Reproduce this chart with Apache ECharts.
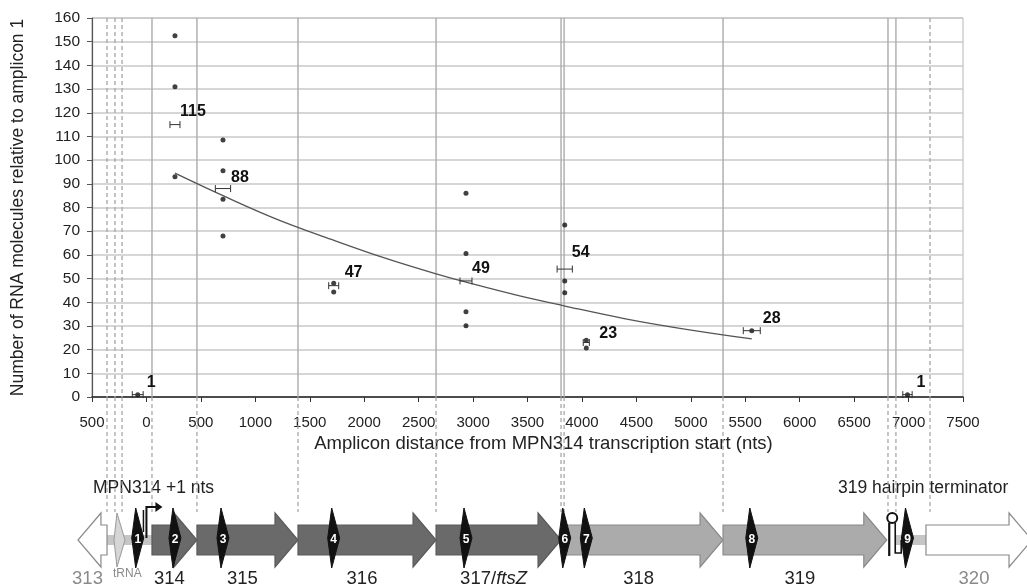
<!DOCTYPE html>
<html><head><meta charset="utf-8">
<script src="https://cdn.jsdelivr.net/npm/echarts@6/dist/echarts.min.js"></script>
<style>html,body{margin:0;padding:0;background:#fff}#c{width:1027px;height:587px}</style>
</head><body><div id="c"></div>
<script>
// ---------- data ----------
const xTickLabels = ['500','0','500','1000','1500','2000','2500','3000','3500','4000','4500','5000','5500','6000','6500','7000','7500'];
const yTickLabels = ['0','10','20','30','40','50','60','70','80','90','100','110','120','130','140','150','160'];
const ampliconX    = [-80, 262, 703, 1720, 2935, 3842, 4040, 5560, 6990];
const ampliconMean = [1, 115, 88, 47, 49, 54, 23, 28, 1];
const ampliconErr  = [50, 46, 70, 46, 55, 70, 28, 78, 43];
const replicates   = [[1],[152.5,131,93],[108.5,95.5,83.5,68],[48,44.3],[86,60.6,36,30.1],[72.6,49,44],[24,20.7],[28],[1]];
const fitX = [262, 703, 1200, 1700, 2200, 2660, 2935, 3400, 3835, 4400, 4900, 5560];
const fitY = [94.5, 85, 75, 66.5, 58.5, 52, 48.5, 43, 38.5, 33, 29, 24.5];
const boundaryX      = [-362, -289, -224, 51, 464, 1392, 2660, 3808, 3836, 5296, 6811, 6884, 7197];
const boundaryDashed = [true, true, true, false, false, false, false, false, false, false, false, false, true];
const geneNames = ['313','314','315','316','317/ftsZ','318','319','320'];
const geneStart = [-362, 51, 464, 1392, 2660, 3836, 5296, 7160];
const geneEnd   = [-629, 464, 1392, 2660, 3808, 5296, 6800, 8134];
const geneClass = ['flank','core','core','core','core','down','down','flank'];
const connectors = [[-362, 51], [6884, 7160]];
const trnaRange = [-289, -215];
const promoterX = 0;
const hairpinX = 6850;

// ---------- layout / style ----------
const FONT = '"Liberation Sans", Arial, Helvetica, sans-serif';
const labelOffsets = [[9,-12],[5,-13],[8,-10.5],[11,-13],[6,-12],[7,-16],[13,-9],[11,-12],[9,-12]];
const geneStyle = {
  flank: {fill:'#ffffff', stroke:'#8a8a8a', text:'#8a8a8a'},
  core:  {fill:'#6a6a6a', stroke:'#5a5a5a', text:'#222'},
  down:  {fill:'#ababab', stroke:'#8a8a8a', text:'#222'}
};
const YC = 143;
const BODY = 15, HEAD = 27, HEADLEN = 23;

const scatterData = [];
replicates.forEach((arr, i) => arr.forEach(v => scatterData.push([ampliconX[i], v])));

const chart = echarts.init(document.getElementById('c'));

const option = {
  animation: false,
  backgroundColor: '#fff',
  textStyle: {fontFamily: FONT},
  grid: [
    {left: 92, top: 18, width: 871, height: 379, show: true, borderColor: '#b5b5b5', borderWidth: 1},
    {left: 92, top: 397, width: 871, height: 190}
  ],
  xAxis: [
    {gridIndex: 0, type: 'value', min: -500, max: 7500, interval: 500,
     name: 'Amplicon distance from MPN314 transcription start (nts)',
     nameLocation: 'middle', nameGap: 29,
     nameTextStyle: {fontSize: 18.5, color: '#222', fontFamily: FONT, padding: [0, 0, 0, 32]},
     axisLine: {show: true, onZero: false, lineStyle: {color: '#222', width: 1.5}},
     axisTick: {show: true, inside: false, length: 5, lineStyle: {color: '#333'}},
     axisLabel: {fontSize: 15, color: '#222', margin: 18, fontFamily: FONT,
       formatter: v => xTickLabels[Math.round((v + 500) / 500)]},
     splitLine: {show: false}},
    {gridIndex: 1, type: 'value', min: -500, max: 7500, show: false}
  ],
  yAxis: [
    {gridIndex: 0, type: 'value', min: 0, max: 160, interval: 10,
     name: 'Number of RNA molecules relative to amplicon 1',
     nameLocation: 'middle', nameGap: 65, nameRotate: 90,
     nameTextStyle: {fontSize: 17.5, color: '#222', fontFamily: FONT},
     axisLine: {show: true, onZero: false, lineStyle: {color: '#555', width: 1.2}},
     axisTick: {show: true, inside: false, length: 5, lineStyle: {color: '#555'}},
     axisLabel: {fontSize: 15.5, color: '#222', margin: 12, fontFamily: FONT,
       formatter: v => yTickLabels[Math.round(v / 10)]},
     splitLine: {show: true, lineStyle: {color: '#c9c9c9', width: 1.5}}},
    {gridIndex: 1, type: 'value', min: 0, max: 190, inverse: true, show: false}
  ],
  graphic: [
    {type: 'text', left: 93, top: 479, style: {text: 'MPN314 +1 nts', font: '17.5px ' + FONT, fill: '#222'}},
    {type: 'text', left: 838, top: 479, style: {text: '319 hairpin terminator', font: '17.5px ' + FONT, fill: '#222'}}
  ],
  series: [
    {type: 'custom', xAxisIndex: 0, yAxisIndex: 0, z: 1, silent: true, clip: false,
     data: boundaryX.map((x, i) => [x, boundaryDashed[i] ? 1 : 0]),
     renderItem(params, api) {
       const x = api.value(0), d = api.value(1);
       const t = api.coord([x, 160]), b = api.coord([x, 0]);
       return {type: 'line', shape: {x1: t[0], y1: t[1], x2: b[0], y2: b[1]},
         style: {stroke: '#ababab', lineWidth: 1.4, lineDash: d ? [4, 3] : null}};
     }},
    {type: 'line', xAxisIndex: 0, yAxisIndex: 0, z: 3, smooth: 0.4, showSymbol: false, silent: true,
     data: fitX.map((x, i) => [x, fitY[i]]),
     lineStyle: {color: '#555', width: 1.3}},
    {type: 'scatter', xAxisIndex: 0, yAxisIndex: 0, z: 4, silent: true,
     data: scatterData, symbolSize: 5, itemStyle: {color: '#111'}},
    {type: 'custom', xAxisIndex: 0, yAxisIndex: 0, z: 5, silent: true, clip: false,
     data: ampliconX.map((x, i) => [x, ampliconMean[i], ampliconErr[i], i]),
     renderItem(params, api) {
       const x = api.value(0), y = api.value(1), e = api.value(2), i = api.value(3);
       const p1 = api.coord([x - e, y]), p2 = api.coord([x + e, y]), pc = api.coord([x, y]);
       const h = 3.5, st = {stroke: '#333', lineWidth: 1};
       const off = labelOffsets[i];
       return {type: 'group', children: [
         {type: 'line', shape: {x1: p1[0], y1: p1[1], x2: p2[0], y2: p2[1]}, style: st},
         {type: 'line', shape: {x1: p1[0], y1: p1[1] - h, x2: p1[0], y2: p1[1] + h}, style: st},
         {type: 'line', shape: {x1: p2[0], y1: p2[1] - h, x2: p2[0], y2: p2[1] + h}, style: st},
         {type: 'text', x: pc[0] + off[0], y: pc[1] + off[1],
          style: {text: String(ampliconMean[i]), font: 'bold 16px ' + FONT, fill: '#111', align: 'left', verticalAlign: 'middle'}}
       ]};
     }},
    {type: 'custom', xAxisIndex: 1, yAxisIndex: 1, z: 1, silent: true, clip: false,
     data: boundaryX.map(x => [x]),
     renderItem(params, api) {
       const x = api.value(0);
       const t = api.coord([x, 0]), b = api.coord([x, 115]);
       return {type: 'line', shape: {x1: t[0], y1: t[1], x2: b[0], y2: b[1]},
         style: {stroke: '#a0a0a0', lineWidth: 1.2, lineDash: [4, 3]}};
     }},
    {type: 'custom', xAxisIndex: 1, yAxisIndex: 1, z: 2, silent: true, clip: false,
     data: connectors,
     renderItem(params, api) {
       const a = api.coord([api.value(0), YC]), b = api.coord([api.value(1), YC]);
       return {type: 'rect', shape: {x: a[0], y: a[1] - 5, width: b[0] - a[0], height: 10},
         style: {fill: '#c6c6c6'}};
     }},
    {type: 'custom', xAxisIndex: 1, yAxisIndex: 1, z: 3, silent: true, clip: false,
     data: geneStart.map((s, i) => [s, geneEnd[i], i]),
     renderItem(params, api) {
       const i = api.value(2);
       const s = api.coord([api.value(0), YC]), e = api.coord([api.value(1), YC]);
       const yc = s[1], xs = s[0], xe = e[0];
       const dir = xe > xs ? 1 : -1;
       const xb = xe - dir * HEADLEN;
       const st = geneStyle[geneClass[i]];
       const pts = [[xs, yc - BODY], [xb, yc - BODY], [xb, yc - HEAD], [xe, yc], [xb, yc + HEAD], [xb, yc + BODY], [xs, yc + BODY]];
       const txt = geneNames[i].replace('ftsZ', '{it|ftsZ}');
       return {type: 'group', children: [
         {type: 'polygon', shape: {points: pts}, style: {fill: st.fill, stroke: st.stroke, lineWidth: 1.2}},
         {type: 'text', x: (xs + xe) / 2 - 5, y: yc + 39,
          style: {text: txt, font: '18.5px ' + FONT, fill: st.text, align: 'center', verticalAlign: 'middle',
            rich: {it: {fontStyle: 'italic', fontSize: 18.5, fontFamily: FONT, fill: st.text}}}}
       ]};
     }},
    {type: 'custom', xAxisIndex: 1, yAxisIndex: 1, z: 4, silent: true, clip: false,
     data: [trnaRange],
     renderItem(params, api) {
       const a = api.coord([api.value(0), YC]), b = api.coord([api.value(1), YC]);
       const yc = a[1];
       return {type: 'group', children: [
         {type: 'polygon', shape: {points: [[a[0] + 2, yc - 27], [b[0] + 2, yc], [a[0] + 2, yc + 27], [a[0] - 1, yc]]},
          style: {fill: '#d6d6d6', stroke: '#9a9a9a', lineWidth: 1}},
         {type: 'text', x: a[0] - 2, y: yc + 34,
          style: {text: 'tRNA', font: '12px ' + FONT, fill: '#8a8a8a', align: 'left', verticalAlign: 'middle'}}
       ]};
     }},
    {type: 'custom', xAxisIndex: 1, yAxisIndex: 1, z: 5, silent: true, clip: false,
     data: [[promoterX, hairpinX]],
     renderItem(params, api) {
       const p = api.coord([api.value(0), YC]), h = api.coord([api.value(1), YC]);
       const yc = p[1];
       const st = {stroke: '#111', lineWidth: 2, fill: null};
       return {type: 'group', children: [
         {type: 'polyline', shape: {points: [[p[0], yc - 2], [p[0], yc - 33], [p[0] + 10, yc - 33]]}, style: st},
         {type: 'polyline', shape: {points: [[p[0] - 3, yc - 8], [p[0] - 3, yc - 30]]}, style: {stroke: '#111', lineWidth: 1.5}},
         {type: 'polygon', shape: {points: [[p[0] + 9, yc - 38], [p[0] + 16, yc - 33], [p[0] + 9, yc - 28]]}, style: {fill: '#111'}},
         {type: 'line', shape: {x1: h[0] - 3, y1: yc - 17, x2: h[0] - 3, y2: yc + 16}, style: {stroke: '#111', lineWidth: 2.2}},
         {type: 'polyline', shape: {points: [[h[0] + 3, yc - 17], [h[0] + 3, yc + 13], [h[0] + 9, yc + 13], [h[0] + 9, yc]]}, style: {stroke: '#111', lineWidth: 1.6, fill: null}},
         {type: 'circle', shape: {cx: h[0], cy: yc - 22, r: 5}, style: {fill: '#fff', stroke: '#111', lineWidth: 2}}
       ]};
     }},
    {type: 'custom', xAxisIndex: 1, yAxisIndex: 1, z: 6, silent: true, clip: false,
     data: ampliconX.map((x, i) => [x, i + 1]),
     renderItem(params, api) {
       const c = api.coord([api.value(0), YC]);
       const x = c[0], yc = c[1];
       return {type: 'group', children: [
         {type: 'polygon', shape: {points: [[x - 2, yc - 32], [x + 6, yc - 2], [x - 2, yc + 28], [x - 6, yc - 2]]},
          style: {fill: '#111', stroke: '#111', lineWidth: 1}},
         {type: 'text', x: x, y: yc, style: {text: String(api.value(1)), font: 'bold 12px ' + FONT, fill: '#fff', align: 'center', verticalAlign: 'middle'}}
       ]};
     }}
  ]
};
chart.setOption(option);
</script>
</body></html>
